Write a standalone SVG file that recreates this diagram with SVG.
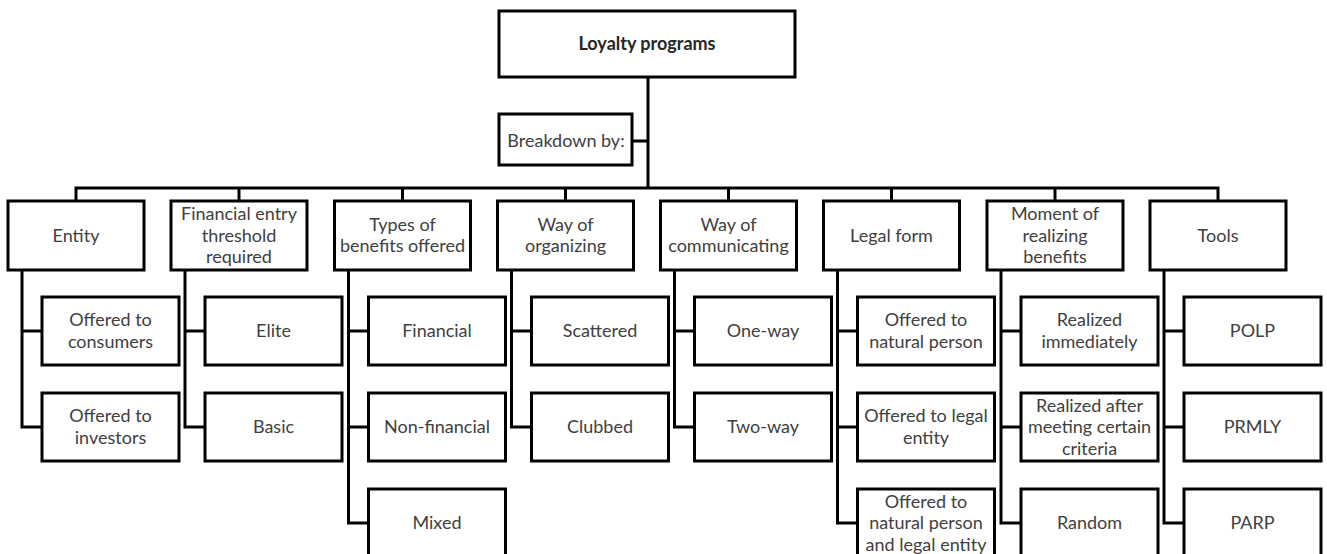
<svg xmlns="http://www.w3.org/2000/svg" width="1327" height="554" viewBox="0 0 1327 554">
<style>
.box{fill:#fff;stroke:#000;stroke-width:3}
.conn{fill:none;stroke:#000;stroke-width:3;stroke-linejoin:miter}
.t{font-family:Lato,"Liberation Sans",sans-serif;font-size:18px;fill:#404040;text-anchor:middle}
.title{font-family:Lato,"Liberation Sans",sans-serif;font-size:18px;font-weight:bold;fill:#262626;text-anchor:middle}
</style>
<rect width="1327" height="554" fill="#fff"/>
<g id="connectors">
<path class="conn" d="M648 78V188M633 141H648"/>
<path class="conn" d="M76 201V188H1218V201M239 188V201M402.5 188V201M565.5 188V201M728.5 188V201M891.5 188V201M1055 188V201"/>
<path class="conn" d="M22 270V427H42M22 331H42"/>
<path class="conn" d="M185 270V427H205M185 331H205"/>
<path class="conn" d="M348.5 270V523H368.5M348.5 331H368.5M348.5 427H368.5"/>
<path class="conn" d="M511.5 270V427H531.5M511.5 331H531.5"/>
<path class="conn" d="M674.5 270V427H694.5M674.5 331H694.5"/>
<path class="conn" d="M837.5 270V523H857.5M837.5 331H857.5M837.5 427H857.5"/>
<path class="conn" d="M1001 270V523H1021M1001 331H1021M1001 427H1021"/>
<path class="conn" d="M1164 270V523H1184M1164 331H1184M1164 427H1184"/>
</g>
<g id="root"><rect class="box" x="499" y="11" width="296" height="66"/><text class="title" x="647" y="50">Loyalty programs</text></g>
<g id="breakdown"><rect class="box" x="499" y="114" width="133" height="51"/><text class="t" x="566" y="147">Breakdown by:</text></g>

<g id="entity"><rect class="box" x="8" y="201" width="136" height="69"/><text class="t" x="76" y="241.5">Entity</text></g>
<g id="entity-consumers"><rect class="box" x="42" y="297" width="137" height="68"/><text class="t" x="110.5"><tspan x="110.5" y="326">Offered to</tspan><tspan x="110.5" y="348">consumers</tspan></text></g>
<g id="entity-investors"><rect class="box" x="42" y="393" width="137" height="68"/><text class="t" x="110.5"><tspan x="110.5" y="422">Offered to</tspan><tspan x="110.5" y="444">investors</tspan></text></g>

<g id="threshold"><rect class="box" x="171" y="201" width="136" height="69"/><text class="t"><tspan x="239" y="220">Financial entry</tspan><tspan x="239" y="241.5">threshold</tspan><tspan x="239" y="263">required</tspan></text></g>
<g id="threshold-elite"><rect class="box" x="205" y="297" width="137" height="68"/><text class="t" x="273.5" y="337">Elite</text></g>
<g id="threshold-basic"><rect class="box" x="205" y="393" width="137" height="68"/><text class="t" x="273.5" y="433">Basic</text></g>

<g id="benefits"><rect class="box" x="334.5" y="201" width="136" height="69"/><text class="t"><tspan x="402.5" y="231">Types of</tspan><tspan x="402.5" y="252">benefits offered</tspan></text></g>
<g id="benefits-financial"><rect class="box" x="368.5" y="297" width="137" height="68"/><text class="t" x="437" y="337">Financial</text></g>
<g id="benefits-nonfinancial"><rect class="box" x="368.5" y="393" width="137" height="68"/><text class="t" x="437" y="433">Non-financial</text></g>
<g id="benefits-mixed"><rect class="box" x="368.5" y="489" width="137" height="70"/><text class="t" x="437" y="529">Mixed</text></g>

<g id="organizing"><rect class="box" x="497.5" y="201" width="136" height="69"/><text class="t"><tspan x="565.5" y="231">Way of</tspan><tspan x="565.5" y="252">organizing</tspan></text></g>
<g id="organizing-scattered"><rect class="box" x="531.5" y="297" width="137" height="68"/><text class="t" x="600" y="337">Scattered</text></g>
<g id="organizing-clubbed"><rect class="box" x="531.5" y="393" width="137" height="68"/><text class="t" x="600" y="433">Clubbed</text></g>

<g id="communicating"><rect class="box" x="660.5" y="201" width="136" height="69"/><text class="t"><tspan x="728.5" y="231">Way of</tspan><tspan x="728.5" y="252">communicating</tspan></text></g>
<g id="communicating-oneway"><rect class="box" x="694.5" y="297" width="137" height="68"/><text class="t" x="763" y="337">One-way</text></g>
<g id="communicating-twoway"><rect class="box" x="694.5" y="393" width="137" height="68"/><text class="t" x="763" y="433">Two-way</text></g>

<g id="legal"><rect class="box" x="823.5" y="201" width="136" height="69"/><text class="t" x="891.5" y="241.5">Legal form</text></g>
<g id="legal-natural"><rect class="box" x="857.5" y="297" width="137" height="68"/><text class="t"><tspan x="926" y="326">Offered to</tspan><tspan x="926" y="348">natural person</tspan></text></g>
<g id="legal-entity"><rect class="box" x="857.5" y="393" width="137" height="68"/><text class="t"><tspan x="926" y="422">Offered to legal</tspan><tspan x="926" y="444">entity</tspan></text></g>
<g id="legal-both"><rect class="box" x="857.5" y="489" width="137" height="70"/><text class="t"><tspan x="926" y="507.5">Offered to</tspan><tspan x="926" y="529">natural person</tspan><tspan x="926" y="550.5">and legal entity</tspan></text></g>

<g id="moment"><rect class="box" x="987" y="201" width="136" height="69"/><text class="t"><tspan x="1055" y="220">Moment of</tspan><tspan x="1055" y="241.5">realizing</tspan><tspan x="1055" y="263">benefits</tspan></text></g>
<g id="moment-immediately"><rect class="box" x="1021" y="297" width="137" height="68"/><text class="t"><tspan x="1089.5" y="326">Realized</tspan><tspan x="1089.5" y="348">immediately</tspan></text></g>
<g id="moment-criteria"><rect class="box" x="1021" y="393" width="137" height="68"/><text class="t"><tspan x="1089.5" y="411.5">Realized after</tspan><tspan x="1089.5" y="433">meeting certain</tspan><tspan x="1089.5" y="454.5">criteria</tspan></text></g>
<g id="moment-random"><rect class="box" x="1021" y="489" width="137" height="70"/><text class="t" x="1089.5" y="529">Random</text></g>

<g id="tools"><rect class="box" x="1150" y="201" width="136" height="69"/><text class="t" x="1218" y="241.5">Tools</text></g>
<g id="tools-polp"><rect class="box" x="1184" y="297" width="137" height="68"/><text class="t" x="1252.5" y="337">POLP</text></g>
<g id="tools-prmly"><rect class="box" x="1184" y="393" width="137" height="68"/><text class="t" x="1252.5" y="433">PRMLY</text></g>
<g id="tools-parp"><rect class="box" x="1184" y="489" width="137" height="70"/><text class="t" x="1252.5" y="529">PARP</text></g>
</svg>
